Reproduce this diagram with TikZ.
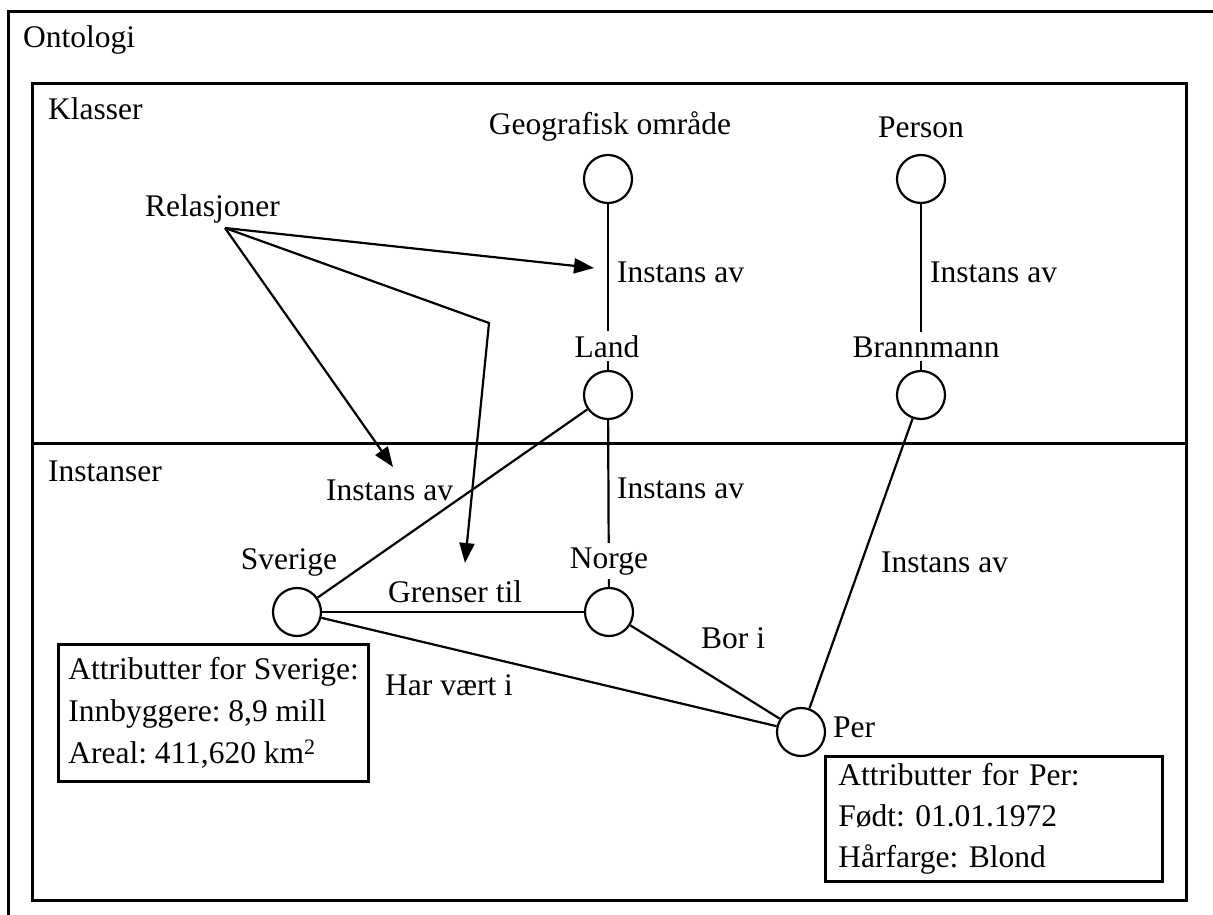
\documentclass[tikz,border=0pt]{standalone}
\usepackage{fontspec}
\setmainfont{Liberation Serif}
\usetikzlibrary{arrows.meta}
\frenchspacing

\begin{document}
\begin{tikzpicture}[x=1pt,y=-1pt,
  font=\fontsize{31.5}{42}\selectfont,
  kl/.style={circle,draw,line width=2.2pt,minimum size=48pt,inner sep=0pt},
  lbl/.style={inner sep=0pt,anchor=base west},
  cover/.style={fill=white,inner xsep=2pt,inner ysep=4pt,anchor=base},
  relpil/.style={line width=2.2pt,-{Triangle[length=20pt,width=15pt]}},
  attr/.style={draw,line width=2.6pt,anchor=north west,align=left,inner xsep=10pt}]
\useasboundingbox (0,0) rectangle (1213,915);
\clip (0,0) rectangle (1213,915);
% rammer
\draw[line width=3pt] (8,12) rectangle (1260,960);
\draw[line width=3pt] (32,84) rectangle (1186,900);
\draw[line width=3pt] (32,443) -- (1186,443);
\node[lbl] (ontologi) at (23,48) {Ontologi};
\node[lbl] (klasser) at (48,120) {Klasser};
\node[lbl] (instanser) at (48,481) {Instanser};
% klasser
\node[kl] (geo) at (608,179) {};
\node[kl] (person) at (921,179) {};
\node[kl] (land) at (608,395) {};
\node[kl] (brann) at (921,395) {};
% instanser
\node[kl] (sverige) at (297,612) {};
\node[kl] (norge) at (609,612) {};
\node[kl] (per) at (801,732) {};
\begin{scope}[line width=2.2pt]
\draw (geo) -- (land);
\draw (person) -- (brann);
\draw (land) -- (norge);
\draw (land) -- (sverige);
\draw (brann) -- (per);
\draw (sverige) -- (norge);
\draw (sverige) -- (per);
\draw (norge) -- (per);
\end{scope}
% navn
\node[cover] (geotxt) at (610,135) {Geografisk område};
\node[cover] (persontxt) at (921,138) {Person};
\node[cover] (landtxt) at (607,357) {Land};
\node[cover] (branntxt) at (926,357) {Brannmann};
\node[cover] (sverigetxt) at (289,569) {Sverige};
\node[cover] (norgetxt) at (609,568) {Norge};
\node[lbl] (pertxt) at (833,737) {Per};
% relasjoner
\node[lbl] (ia1) at (617,282) {Instans av};
\node[lbl] (ia2) at (930,282) {Instans av};
\node[lbl] (ia3) at (617,498) {Instans av};
\node[lbl] (ia4) at (326,500) {Instans av};
\node[lbl] (ia5) at (881,572) {Instans av};
\node[lbl] (grenser) at (388,602) {Grenser til};
\node[lbl] (bor) at (701,648) {Bor i};
\node[lbl] (harvaert) at (385,695) {Har vært i};
\node[lbl] (relasjoner) at (145,216) {Relasjoner};
\coordinate (relpt) at (225,228);
\coordinate (rel1) at (594,268);
\coordinate (knekk) at (489,323);
\coordinate (rel2) at (465,563);
\coordinate (rel3) at (393,467);
\draw[relpil] (relpt) -- (rel1);
\draw[relpil] (relpt) -- (knekk) -- (rel2);
\draw[relpil] (relpt) -- (rel3);
% attributter
\node[attr,minimum height=137pt] (attrsverige) at (57,643)
  {Attributter for Sverige:\\Innbyggere: 8,9 mill\\Areal: 411,620 km\textsuperscript{2}};
\node[attr,text width=311pt,inner xsep=13pt,inner ysep=7pt,
  font=\fontsize{31.5}{41}\selectfont] (attrper) at (824,755)
  {Attributter for Per:\\Født: 01.01.1972\\Hårfarge: Blond};
\end{tikzpicture}
\end{document}
